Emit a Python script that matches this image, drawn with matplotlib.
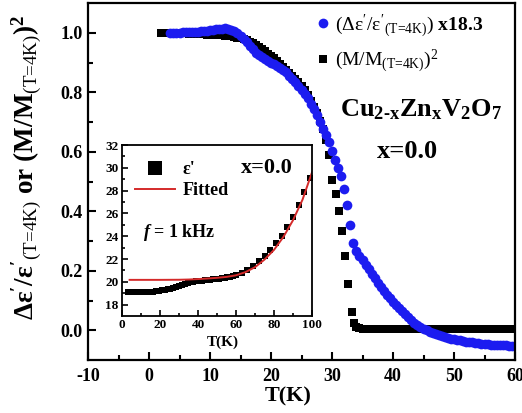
import numpy as np
import matplotlib
matplotlib.use("Agg")
import matplotlib.pyplot as plt

plt.rcParams['font.family'] = 'Liberation Serif'
plt.rcParams['font.weight'] = 'bold'
plt.rcParams['mathtext.fontset'] = 'custom'
plt.rcParams['mathtext.rm'] = 'Liberation Serif:weight=normal'
plt.rcParams['mathtext.it'] = 'Liberation Serif:weight=normal'
plt.rcParams['mathtext.bf'] = 'Liberation Serif:weight=bold'
plt.rcParams['mathtext.sf'] = 'Liberation Serif:style=italic:weight=bold'
plt.rcParams['axes.unicode_minus'] = False

# main panel: dielectric change x18.3 (blue circles)
t_eps = [3.5, 4.0, 4.5, 5.0, 5.5, 6.0, 6.5, 7.0, 7.5, 8.0, 8.5, 9.0, 9.5, 10.0,
         10.5, 11.0, 11.5, 12.0, 12.5, 13.0, 13.5, 14.0, 14.5, 15.0, 15.5, 16.0,
         16.5, 17.0, 17.5, 18.0, 18.5, 19.0, 19.5, 20.0, 20.5, 21.0, 21.5, 22.0,
         22.5, 23.0, 23.5, 24.0, 24.5, 25.0, 25.5, 26.0, 26.5, 27.0, 27.5, 28.0,
         28.5, 29.0, 29.5, 30.0, 30.5,
         31.0, 31.4, 31.9, 32.4, 32.9, 33.5,
         34.0, 34.5, 35.0, 35.5, 36.0, 36.5, 37.0, 37.5, 38.0, 38.5, 39.0, 39.5,
         40.0, 40.5, 41.0, 41.5, 42.0, 42.5, 43.0, 43.5, 44.0, 44.5, 45.0, 45.5,
         46.0, 46.5, 47.0, 47.5, 48.0, 48.5, 49.0, 49.5, 50.0, 50.5, 51.0, 51.5,
         52.0, 52.5, 53.0, 53.5, 54.0, 54.5, 55.0, 55.5, 56.0, 56.5, 57.0, 57.5,
         58.0, 58.5, 59.0, 59.5, 60.0]
d_eps = [1.000, 1.000, 1.000, 1.000, 1.001, 1.001, 1.002, 1.002, 1.003, 1.004,
         1.005, 1.006, 1.007, 1.008, 1.010, 1.012, 1.013, 1.014, 1.015, 1.013,
         1.010, 1.005, 0.998, 0.990, 0.980, 0.968, 0.956, 0.944, 0.933, 0.925,
         0.918, 0.912, 0.906, 0.900, 0.895, 0.889, 0.883, 0.875, 0.867, 0.856,
         0.845, 0.834, 0.822, 0.809, 0.795, 0.779, 0.762, 0.743, 0.722, 0.700,
         0.678, 0.655, 0.632, 0.603, 0.572,
         0.545, 0.520, 0.475, 0.420, 0.355, 0.294,
         0.265, 0.250, 0.235, 0.220, 0.205, 0.190, 0.175, 0.160, 0.145, 0.132,
         0.120, 0.107, 0.095, 0.085, 0.075, 0.065, 0.055, 0.045, 0.035, 0.026,
         0.018, 0.011, 0.005, 0.000, -0.005, -0.009, -0.013, -0.017, -0.020,
         -0.023, -0.025, -0.028, -0.030, -0.032, -0.034, -0.036, -0.038, -0.040,
         -0.041, -0.043, -0.044, -0.045, -0.046, -0.047, -0.048, -0.049, -0.050,
         -0.050, -0.051, -0.051, -0.052, -0.052, -0.053]

# main panel: (M/M(4K))^2 (black squares)
t_mag = [2.0, 2.5, 3.0, 3.5, 4.0, 4.5, 5.0, 5.5, 6.0, 6.5, 7.0, 7.5, 8.0, 8.5,
         9.0, 9.5, 10.0, 10.5, 11.0, 11.5, 12.0, 12.5, 13.0, 13.5, 14.0, 14.5,
         15.0, 15.5, 16.0, 16.5, 17.0, 17.5, 18.0, 18.5, 19.0, 19.5, 20.0, 20.5,
         21.0, 21.5, 22.0, 22.5, 23.0, 23.5, 24.0, 24.5, 25.0, 25.5, 26.0, 26.5,
         27.0, 27.5, 28.0, 28.5, 29.0, 29.5,
         30.0, 30.6, 31.1, 31.7, 32.1, 32.7, 33.2, 33.6, 34.0, 34.5,
         35.0, 35.5, 36.0, 36.5, 37.0, 37.5, 38.0, 38.5, 39.0, 39.5, 40.0, 40.5,
         41.0, 41.5, 42.0, 42.5, 43.0, 43.5, 44.0, 44.5, 45.0, 45.5, 46.0, 46.5,
         47.0, 47.5, 48.0, 48.5, 49.0, 49.5, 50.0, 50.5, 51.0, 51.5, 52.0, 52.5,
         53.0, 53.5, 54.0, 54.5, 55.0, 55.5, 56.0, 56.5, 57.0, 57.5, 58.0, 58.5,
         59.0, 59.5, 60.0]
m2 = [1.000, 1.000, 1.000, 1.000, 1.000, 0.999, 0.999, 0.998, 0.998, 0.997,
      0.997, 0.996, 0.996, 0.995, 0.995, 0.994, 0.994, 0.993, 0.993, 0.992,
      0.991, 0.990, 0.989, 0.988, 0.986, 0.984, 0.982, 0.979, 0.975, 0.970,
      0.965, 0.959, 0.952, 0.945, 0.938, 0.930, 0.922, 0.914, 0.905, 0.896,
      0.886, 0.876, 0.866, 0.856, 0.845, 0.833, 0.820, 0.806, 0.790, 0.772,
      0.752, 0.730, 0.705, 0.675, 0.640, 0.590,
      0.506, 0.459, 0.400, 0.332, 0.248, 0.156, 0.063, 0.024, 0.012, 0.008,
      0.005, 0.004, 0.004, 0.004, 0.004, 0.004, 0.004, 0.004, 0.004, 0.004,
      0.004, 0.004, 0.004, 0.004, 0.004, 0.004, 0.004, 0.004, 0.004, 0.004,
      0.004, 0.004, 0.004, 0.004, 0.004, 0.004, 0.004, 0.004, 0.004, 0.004,
      0.004, 0.004, 0.004, 0.004, 0.004, 0.004, 0.004, 0.004, 0.004, 0.004,
      0.004, 0.004, 0.004, 0.004, 0.004, 0.004, 0.004, 0.004, 0.004, 0.004,
      0.004]

# inset: eps' at 1 kHz and its fit
t_in = [3, 4.5, 6, 7.5, 9, 10.5, 12, 13.5, 15, 16.5, 18, 19.5, 21, 22.5, 24,
        25.5, 27, 28.5, 30, 31.5, 33, 34.5, 36, 37.5, 39, 40.5, 42, 43.5, 45,
        46.5, 48, 49.5, 51, 52.5, 54, 55.5, 57, 58.5, 60, 63, 66, 69, 72, 75,
        78, 81, 84, 87, 90, 93, 96, 99]
eps_in = [19.10, 19.10, 19.10, 19.10, 19.10, 19.10, 19.10, 19.11, 19.12, 19.14,
          19.17, 19.21, 19.25, 19.30, 19.35, 19.40, 19.46, 19.55, 19.66, 19.76,
          19.85, 19.90, 19.95, 20.00, 20.03, 20.07, 20.10, 20.13, 20.16, 20.19,
          20.22, 20.25, 20.28, 20.31, 20.35, 20.39, 20.43, 20.50, 20.58, 20.78,
          21.03, 21.38, 21.80, 22.28, 22.80, 23.40, 24.05, 24.85, 25.70, 26.75,
          27.90, 29.10]
t_fit = [4, 10, 20, 30, 35, 40, 45, 50, 55, 60, 65, 70, 75, 80, 85, 90, 95, 100]
eps_fit = [20.17, 20.17, 20.17, 20.18, 20.20, 20.24, 20.29, 20.35, 20.43, 20.57,
           20.85, 21.28, 21.95, 22.80, 23.95, 25.40, 27.20, 29.60]

fig = plt.figure(figsize=(5.22, 4.13), dpi=100)
ax = fig.add_axes([88/522, 53/413, 427/522, 357/413])

ax.plot(t_mag, m2, 's', color='black', markersize=5.8, markeredgewidth=0,
        label=r"$(M/M_{\text{(T=4K)}})^2$")
ax.plot(t_eps, d_eps, 'o', color='#1c1cf0', markersize=7, markeredgewidth=0,
        label=r"$(\Delta ε'/ε'_{\text{(T=4K)}})$ x18.3")

ax.set_xlim(-10, 60)
ax.set_ylim(-0.1, 1.1)
ax.set_xticks([-10, 0, 10, 20, 30, 40, 50, 60])
ax.set_xticks(np.arange(-5, 60, 10), minor=True)
ax.set_yticks([0.0, 0.2, 0.4, 0.6, 0.8, 1.0])
ax.set_yticks([0.1, 0.3, 0.5, 0.7, 0.9], minor=True)
ax.set_yticklabels(['0.0', '0.2', '0.4', '0.6', '0.8', '1.0'])
ax.tick_params(which='both', direction='in', width=1.5, labelsize=13)
ax.tick_params(axis='x', which='major', length=6, pad=6)
ax.tick_params(axis='y', which='major', length=6, pad=4)
ax.tick_params(which='minor', length=3.5)
for s in ax.spines.values():
    s.set_linewidth(1.6)

ax.set_xlabel('T(K)', fontsize=16, fontweight='bold')
ax.xaxis.set_label_coords(0.468, -0.075)
ax.set_ylabel(r"$\mathbf{\Delta ε'/ε'}_{\text{(T=4K)}}\ \mathbf{or}\ \mathbf{(M/M}_{\text{(T=4K)}}\mathbf{)}^{\mathbf{2}}$",
              fontsize=19.5)
ax.yaxis.set_label_coords(-0.102, 0.54)

h, l = ax.get_legend_handles_labels()
ax.legend(h[::-1], l[::-1], loc='upper left', bbox_to_anchor=(0.527, 0.975),
          frameon=False, fontsize=14, handlelength=1.0, handletextpad=0.15,
          labelspacing=0.45, borderaxespad=0, borderpad=0, numpoints=1)

ax.text(0.590, 0.681, "$\\mathbf{Cu_{2\u2010x}Zn_xV_2O_7}$", transform=ax.transAxes,
        fontsize=19, ha='left', va='baseline')
ax.text(0.747, 0.566, 'x=0.0', transform=ax.transAxes, fontsize=19,
        ha='center', va='baseline', fontweight='bold')

# inset
axi = fig.add_axes([122/522, 97/413, 190/522, 171/413])
axi.plot(t_in, eps_in, 's', color='black', markersize=4.3, markeredgewidth=0, label="ε'")
axi.plot(t_fit, eps_fit, '-', color='#d42a2a', linewidth=1.4, label='Fitted')
axi.set_xlim(0, 100)
axi.set_ylim(17, 32)
axi.set_xticks([0, 20, 40, 60, 80, 100])
axi.set_xticks([10, 30, 50, 70, 90], minor=True)
axi.set_yticks([18, 20, 22, 24, 26, 28, 30, 32])
axi.set_yticks([19, 21, 23, 25, 27, 29, 31], minor=True)
axi.tick_params(which='both', direction='in', width=1.2, labelsize=9.5, pad=2.5)
axi.tick_params(which='major', length=4)
axi.tick_params(which='minor', length=2.5)
for s in axi.spines.values():
    s.set_linewidth(1.3)
axi.set_xlabel('T(K)', fontsize=11, fontweight='bold')
axi.xaxis.set_label_coords(0.53, -0.115)

axi.legend(loc='upper left', bbox_to_anchor=(0.068, 0.905), frameon=False,
           fontsize=13, handlelength=2.2, handletextpad=0.45, labelspacing=0.2,
           borderaxespad=0, borderpad=0, numpoints=1, markerscale=2.3)
axi.text(0.763, 0.866, 'x=0.0', transform=axi.transAxes, fontsize=16,
         ha='center', va='center', fontweight='bold')
axi.text(0.11, 0.49, r"$\mathsf{f}$ = 1 kHz", transform=axi.transAxes, fontsize=13,
         ha='left', va='center', fontweight='bold')

fig.savefig('out.png', dpi=100)
